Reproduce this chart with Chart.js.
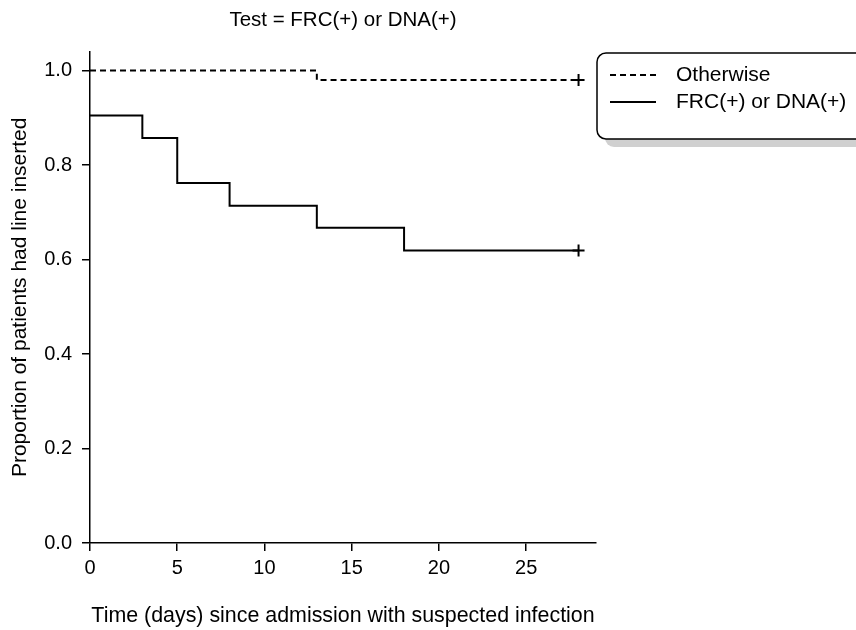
<!DOCTYPE html>
<html lang="en">
<head>
  <meta charset="UTF-8" />
  <title>Test = FRC(+) or DNA(+)</title>
  <script src="https://cdn.jsdelivr.net/npm/chart.js"></script>
  <style>
    body {
      margin: 0;
      padding: 0;
      background: #ffffff;
    }
    #wrap {
      width: 856px;
      height: 630px;
    }
  </style>
</head>
<body>

<div id="wrap">
  <canvas id="kmChart" width="856" height="630"></canvas>
</div>

<script>
  // Kaplan-Meier style step data
  const otherTimes = [0, 13, 28];
  const otherSurv = [1.0, 0.98, 0.98];
  const posTimes = [0, 3, 5, 8, 13, 18, 28];
  const posSurv = [0.905, 0.857, 0.762, 0.714, 0.667, 0.619, 0.619];

  const seriesLabels = ['Otherwise', 'FRC(+) or DNA(+)'];
  const xTicks = [0, 5, 10, 15, 20, 25];
  const yTicks = [0.0, 0.2, 0.4, 0.6, 0.8, 1.0];

  const FONT = "'Liberation Sans', Arial, Helvetica, sans-serif";

  function toPoints(xs, ys) {
    return xs.map((x, i) => ({ x: x, y: ys[i] }));
  }

  // only the last point (censor mark) gets a cross
  function lastOnly(n, r) {
    return Array.from({ length: n }, (_, i) => (i === n - 1 ? r : 0));
  }

  // legend box drawn by hand: it runs off the right edge in the original
  const boxLegend = {
    id: 'boxLegend',
    afterDraw(chart) {
      const ctx = chart.ctx;
      const x = 597, y = 53, w = 290, h = 86, r = 9;
      ctx.save();
      ctx.fillStyle = '#d0d0d0';
      ctx.beginPath();
      ctx.roundRect(x + 8, y + 8, w, h, r);
      ctx.fill();
      ctx.fillStyle = '#ffffff';
      ctx.strokeStyle = '#000000';
      ctx.lineWidth = 1.5;
      ctx.beginPath();
      ctx.roundRect(x, y, w, h, r);
      ctx.fill();
      ctx.stroke();

      ctx.font = '21px ' + FONT;
      ctx.textBaseline = 'middle';
      ctx.fillStyle = '#000000';
      chart.data.datasets.forEach((ds, i) => {
        const ly = 75 + i * 27;
        ctx.setLineDash(ds.borderDash || []);
        ctx.lineWidth = ds.borderWidth;
        ctx.strokeStyle = ds.borderColor;
        ctx.beginPath();
        ctx.moveTo(610, ly);
        ctx.lineTo(656, ly);
        ctx.stroke();
        ctx.setLineDash([]);
        ctx.fillText(ds.label, 676, ly);
      });
      ctx.restore();
    }
  };

  const ctx = document.getElementById('kmChart').getContext('2d');
  const chart = new Chart(ctx, {
    type: 'line',
    data: {
      datasets: [{
        label: seriesLabels[0],
        data: toPoints(otherTimes, otherSurv),
        stepped: 'before',
        borderColor: '#000000',
        borderWidth: 2,
        borderDash: [6, 4],
        pointStyle: 'cross',
        pointRadius: lastOnly(otherTimes.length, 6),
        pointBorderWidth: 2,
        pointBorderColor: '#000000',
        fill: false
      }, {
        label: seriesLabels[1],
        data: toPoints(posTimes, posSurv),
        stepped: 'before',
        borderColor: '#000000',
        borderWidth: 2,
        pointStyle: 'cross',
        pointRadius: lastOnly(posTimes.length, 6),
        pointBorderWidth: 2,
        pointBorderColor: '#000000',
        fill: false
      }]
    },
    options: {
      responsive: false,
      animation: false,
      layout: {
        padding: { left: 0, right: 260, top: 0, bottom: 0 }
      },
      plugins: {
        legend: { display: false },
        tooltip: { enabled: false },
        title: {
          display: true,
          text: 'Test = FRC(+) or DNA(+)',
          fullSize: false,
          color: '#000000',
          font: { family: FONT, size: 20.5, weight: 'normal', lineHeight: 1.2 },
          padding: { top: 8, bottom: 19 }
        }
      },
      scales: {
        x: {
          type: 'linear',
          min: 0,
          max: 29,
          afterBuildTicks(scale) {
            scale.ticks = xTicks.map(v => ({ value: v }));
          },
          afterFit(scale) {
            scale.height = 87;
          },
          grid: {
            drawOnChartArea: false,
            drawTicks: true,
            tickLength: 8,
            color: '#000000',
            lineWidth: 1.5
          },
          border: { display: true, color: '#000000', width: 1.5 },
          ticks: {
            color: '#000000',
            padding: 5,
            font: { family: FONT, size: 20 }
          },
          title: {
            display: true,
            text: 'Time (days) since admission with suspected infection',
            color: '#000000',
            font: { family: FONT, size: 21.4 },
            padding: { top: 0, bottom: 1 }
          }
        },
        y: {
          type: 'linear',
          min: 0,
          max: 1.04,
          afterBuildTicks(scale) {
            scale.ticks = yTicks.map(v => ({ value: v }));
          },
          afterFit(scale) {
            scale.width = 90;
          },
          grid: {
            drawOnChartArea: false,
            drawTicks: true,
            tickLength: 8,
            color: '#000000',
            lineWidth: 1.5
          },
          border: { display: true, color: '#000000', width: 1.5 },
          ticks: {
            color: '#000000',
            padding: 10,
            font: { family: FONT, size: 20 },
            callback: v => Number(v).toFixed(1)
          },
          title: {
            display: true,
            text: 'Proportion of patients had line inserted',
            color: '#000000',
            font: { family: FONT, size: 21 },
            padding: { top: 8, bottom: 0 }
          }
        }
      }
    },
    plugins: [boxLegend]
  });
</script>

</body>
</html>
